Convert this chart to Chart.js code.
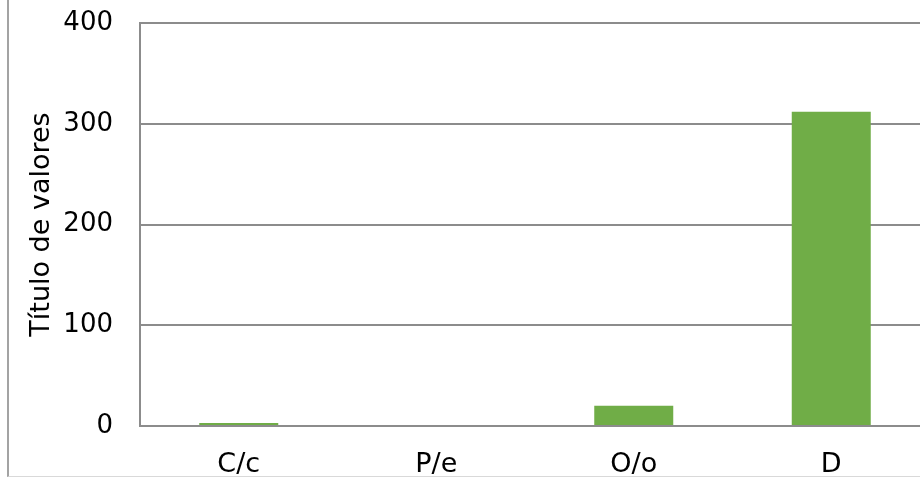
<!DOCTYPE html>
<html>
<head>
<meta charset="utf-8">
<script src="https://cdn.jsdelivr.net/npm/chart.js@4"></script>
<style>
  html, body { margin: 0; padding: 0; background: #fff; overflow: hidden; width: 920px; height: 477px; }
  .frame {
    position: absolute; left: 7px; top: -5px; width: 1000px; height: 482px;
    box-sizing: border-box; border-left: 2px solid #a3a3a3; border-bottom: 1px solid #d9d9d9;
  }
  .wrap { position: absolute; left: 0; top: 0; width: 935px; height: 477px; }
</style>
</head>
<body>
<div class="frame"></div>
<div class="wrap"><canvas id="grafico"></canvas></div>
<script>
const categorias = ['C/c', 'P/e', 'O/o', 'D'];
const valores = [3, 0, 20, 312];
const tituloEje = 'Título de valores';

const gris = '#8c8c8c';
const fuente = { family: 'DejaVu Sans', size: 26 };
const fuenteGrande = { family: 'DejaVu Sans', size: 27 };

const ctx = document.getElementById('grafico').getContext('2d');

const grafico = new Chart(ctx, {
    type: 'bar',
    data: {
        labels: categorias,
        datasets: [{
            label: 'Serie 1',
            data: valores,
            backgroundColor: '#70ad47',
            borderWidth: 0,
            categoryPercentage: 1,
            barPercentage: 0.4
        }]
    },
    options: {
        responsive: true,
        maintainAspectRatio: false,
        animation: false,
        layout: {
            padding: { top: 23, right: 5, left: 0, bottom: 0 }
        },
        scales: {
            y: {
                min: 0,
                max: 400,
                ticks: {
                    stepSize: 100,
                    color: '#000',
                    font: fuente,
                    padding: 0
                },
                grid: {
                    color: gris,
                    lineWidth: 2,
                    drawTicks: true,
                    tickLength: 27,
                    tickColor: 'rgba(0,0,0,0)'
                },
                border: { display: true, color: gris, width: 2 },
                title: {
                    display: true,
                    text: tituloEje,
                    color: '#000',
                    font: fuenteGrande,
                    padding: { top: 26, bottom: 0 }
                },
                afterFit: (escala) => { escala.width = 140; }
            },
            x: {
                ticks: {
                    color: '#000',
                    font: fuenteGrande,
                    padding: 23,
                    maxRotation: 0
                },
                grid: { display: false, drawTicks: false },
                border: { display: true, color: gris, width: 2 },
                afterFit: (escala) => { escala.height = 51; }
            }
        },
        plugins: {
            legend: { display: false },
            tooltip: { enabled: false }
        }
    }
});
</script>
</body>
</html>
